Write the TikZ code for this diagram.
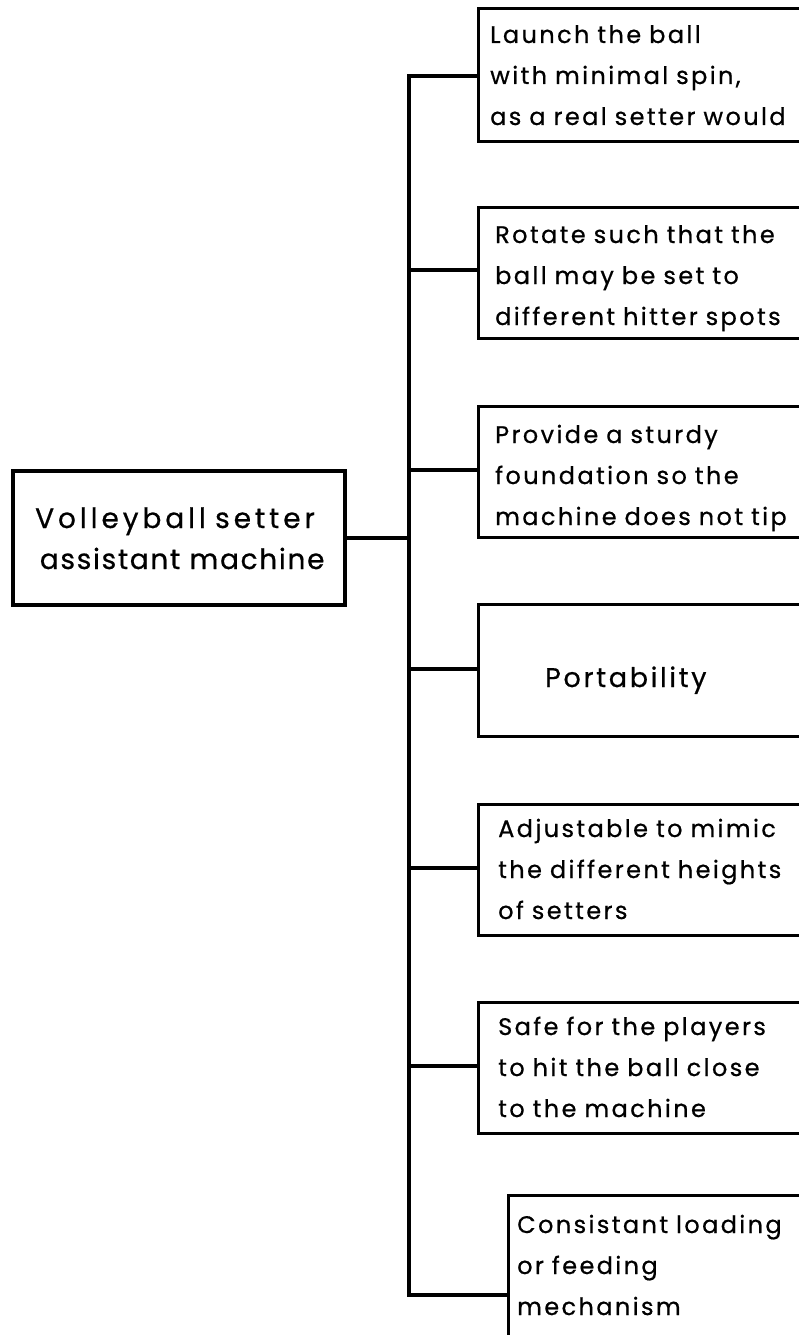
\documentclass[tikz,border=0pt]{standalone}
\usepackage{fontspec}
\newfontfamily\hand{Poppins}[LetterSpace=10, FakeBold=0.6]
\tikzset{
  wire/.style={line width=3.1pt, line cap=rect},
  box/.style={draw, line width=3.1pt, rectangle, inner sep=0pt, anchor=north west, minimum width=400pt},
  txt/.style={anchor=base west, inner sep=0pt, align=left, text width=420pt, font=\hand\fontsize{24}{41}\selectfont},
}
\begin{document}
\begin{tikzpicture}[x=1pt,y=-1pt]
\useasboundingbox (0,0) rectangle (799,1335);
\clip (0,0) rectangle (799,1335);
\fill[white] (0,0) rectangle (799,1335);
% root
\node[draw, line width=3.1pt, rectangle, inner sep=0pt, minimum width=332pt, minimum height=134pt] (root) at (179,538) {};
\node[txt, font=\hand\fontsize{28}{41}\selectfont] (troot) at (35,528) {{\addfontfeature{LetterSpace=14}Volleyball setter}\\\,{\addfontfeature{LetterSpace=6}assistant machine}};
% boxes
\node[box, minimum height=133pt] (b1) at (477,7) {};
\node[box, minimum height=131pt] (b2) at (477,206) {};
\node[box, minimum height=131pt] (b3) at (477,405) {};
\node[box, minimum height=132pt] (b4) at (477,603) {};
\node[box, minimum height=131pt] (b5) at (477,803) {};
\node[box, minimum height=131pt] (b6) at (477,1001) {};
\node[box, minimum height=160pt] (b7) at (507,1194) {};
% texts
\node[txt] (t1) at (490,43) {Launch the ball\\with minimal spin,\\as a real setter would};
\node[txt] (t2) at (495,243) {Rotate such that the\\ball may be set to\\different hitter spots};
\node[txt] (t3) at (495,443) {Provide a sturdy\\foundation so the\\machine does not tip};
\node[txt, font=\hand\fontsize{27}{41}\selectfont] (t4) at (545,687) {Portability};
\node[txt] (t5) at (498,837) {Adjustable to mimic\\the different heights\\of setters};
\node[txt] (t6) at (498,1035) {Safe for the players\\to hit the ball close\\to the machine};
\node[txt] (t7) at (517,1233) {Consistant loading\\or feeding\\mechanism};
% junctions
\coordinate (j1) at (409,76);
\coordinate (j2) at (409,270);
\coordinate (j3) at (409,470);
\coordinate (j4) at (409,669);
\coordinate (j5) at (409,868);
\coordinate (j6) at (409,1066);
\coordinate (j7) at (409,1295);
\draw[wire] (j1) -- (j7);
\draw[wire] (root.east) -- (root.east -| j1);
\draw[wire] (j1) -- (j1 -| b1.west);
\draw[wire] (j2) -- (j2 -| b2.west);
\draw[wire] (j3) -- (j3 -| b3.west);
\draw[wire] (j4) -- (j4 -| b4.west);
\draw[wire] (j5) -- (j5 -| b5.west);
\draw[wire] (j6) -- (j6 -| b6.west);
\draw[wire] (j7) -- (j7 -| b7.west);
\end{tikzpicture}
\end{document}
